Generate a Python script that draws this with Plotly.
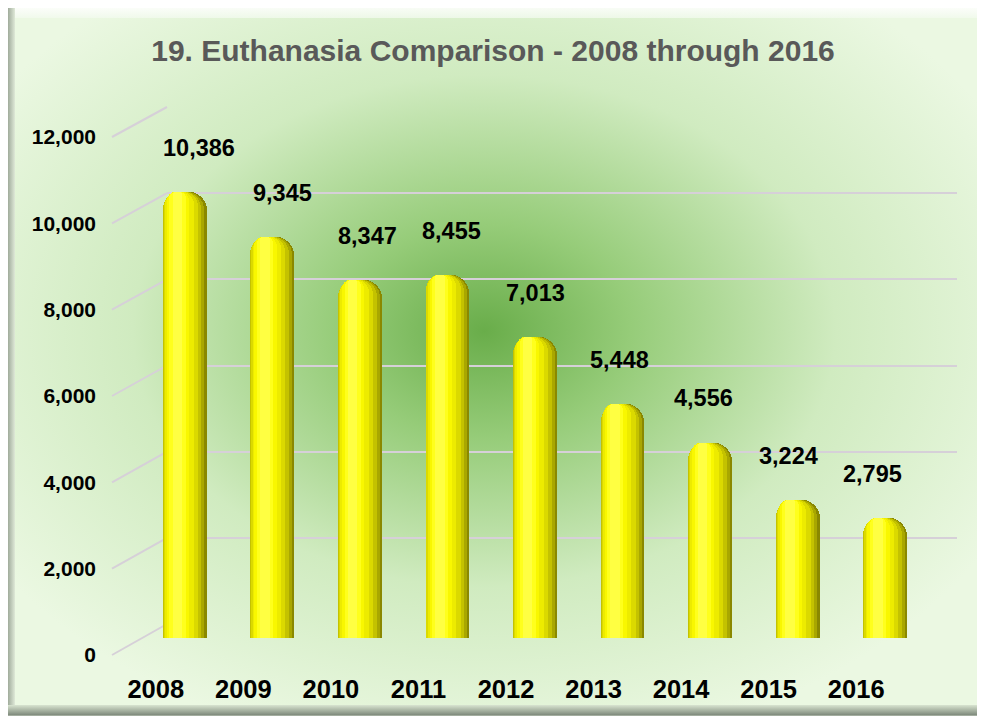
import base64
import plotly.graph_objects as go

# ---------------- data ----------------
years = ["2008", "2009", "2010", "2011", "2012", "2013", "2014", "2015", "2016"]
euthanasia = [10386, 9345, 8347, 8455, 7013, 5448, 4556, 3224, 2795]
tick_values = [0, 2000, 4000, 6000, 8000, 10000, 12000]
tick_labels = ["0", "2,000", "4,000", "6,000", "8,000", "10,000", "12,000"]
title_text = "19. Euthanasia Comparison - 2008 through 2016"

W, H = 985, 719
OX, OY = 8, 8          # page body offset of the figure
YMAX = 12000
FONT = "Liberation Sans, Arial, sans-serif"
BAR_W = 0.5


def px_x(p):
    return (p - OX) / W


def px_y(p):
    return 1 - (p - OY) / H


# domains (3D-ish look: back wall grid, bars in middle, labels in front)
grid_x = [px_x(167), px_x(957)]
grid_y = [px_y(624), px_y(107)]
bar_x = [px_x(141), px_x(929)]
bar_y = [px_y(638), px_y(122.6)]
lab_x = [px_x(112), px_x(900)]
lab_y = [px_y(655), px_y(137)]

# ---------------- background (radial gradient + frame) ----------------
svg = f'''<svg xmlns="http://www.w3.org/2000/svg" width="{W}" height="{H}" viewBox="0 0 {W} {H}">
<defs>
<radialGradient id="g" cx="0.49" cy="0.46" r="0.60">
<stop offset="0" stop-color="#69ad4a"/>
<stop offset="0.25" stop-color="#96cc79"/>
<stop offset="0.6" stop-color="#d0ebc0"/>
<stop offset="1" stop-color="#ebf8e2"/>
</radialGradient>
<linearGradient id="lb" x1="0" x2="1" y1="0" y2="0">
<stop offset="0" stop-color="#8e9a8a"/><stop offset="1" stop-color="#dfe9d8"/>
</linearGradient>
<linearGradient id="bb" x1="0" x2="0" y1="0" y2="1">
<stop offset="0" stop-color="#d8e4d0"/><stop offset="1" stop-color="#7f8a7c"/>
</linearGradient>
<linearGradient id="tb" x1="0" x2="0" y1="0" y2="1">
<stop offset="0" stop-color="#b8c2b4"/><stop offset="0.3" stop-color="#ffffff"/><stop offset="1" stop-color="#f2faee"/>
</linearGradient>
</defs>
<rect width="{W}" height="{H}" fill="#ffffff"/>
<g transform="translate({-OX},{-OY})">
<rect x="5" y="3" width="978" height="713" fill="#a3ad9f"/>
<rect x="6" y="4" width="976" height="711" fill="url(#g)"/>
<rect x="6" y="4" width="976" height="14" fill="url(#tb)" opacity="0.8"/>
<rect x="6" y="4" width="9" height="711" fill="url(#lb)"/>
<rect x="6" y="705" width="976" height="10" fill="url(#bb)"/>
<rect x="978" y="4" width="4" height="711" fill="#c9d3c4"/>
</g>
</svg>'''
bg_uri = "data:image/svg+xml;base64," + base64.b64encode(svg.encode()).decode()

fig = go.Figure()

# grid carrier (back wall) on x/y
fig.add_trace(go.Scatter(x=[0.5], y=[0], mode="markers", marker=dict(opacity=0),
                         hoverinfo="skip", showlegend=False, xaxis="x", yaxis="y"))

# cylinder-like bars: overlay layers (left/right fraction of bar width, colour)
layers = [
    (0.00, 1.00, "#8a8800"),
    (0.00, 0.95, "#a9a700"),
    (0.00, 0.88, "#c4c200"),
    (0.02, 0.80, "#dbd900"),
    (0.05, 0.70, "#edeb00"),
    (0.09, 0.60, "#f9f700"),
    (0.15, 0.52, "#ffff1c"),
    (0.22, 0.44, "#ffff42"),
]
for lf, rf, col in layers:
    fig.add_trace(go.Bar(
        x=years, y=euthanasia, width=(rf - lf) * BAR_W, offset=-BAR_W / 2 + lf * BAR_W,
        marker=dict(color=col, line=dict(width=0), cornerradius="45%"),
        hoverinfo="skip", showlegend=False, xaxis="x2", yaxis="y2",
    ))

# front label carrier on x3/y3
fig.add_trace(go.Scatter(x=years, y=euthanasia, mode="markers", marker=dict(opacity=0),
                         hoverinfo="skip", showlegend=False, xaxis="x3", yaxis="y3"))

# data labels
annotations = []
n = len(years)
for i, v in enumerate(euthanasia):
    annotations.append(dict(
        x=i, y=v, xref="x2", yref="y2", text=f"<b>{v:,}</b>", showarrow=False,
        xanchor="center", yanchor="middle", xshift=14 - 27 * i / (n - 1), yshift=44,
        font=dict(family=FONT, size=23.5, color="#000000"),
    ))

# left-wall diagonal grid segments
shapes = []
for v in tick_values:
    yf = lab_y[0] + v / YMAX * (lab_y[1] - lab_y[0])
    yb = grid_y[0] + v / YMAX * (grid_y[1] - grid_y[0])
    shapes.append(dict(type="line", xref="paper", yref="paper",
                       x0=px_x(112), y0=yf, x1=grid_x[0], y1=yb,
                       line=dict(color="#d6d0d8", width=2), layer="below"))

hidden = dict(showgrid=False, zeroline=False, showline=False, showticklabels=False, ticks="")

fig.update_layout(
    width=W, height=H,
    margin=dict(l=0, r=0, t=0, b=0, pad=0, autoexpand=False),
    paper_bgcolor="#ffffff",
    plot_bgcolor="rgba(0,0,0,0)",
    barmode="overlay",
    bargap=0,
    showlegend=False,
    images=[dict(source=bg_uri, xref="paper", yref="paper", x=0, y=1, sizex=1, sizey=1,
                 xanchor="left", yanchor="top", sizing="stretch", layer="below")],
    title=dict(text=f"<b>{title_text}</b>", x=px_x(493), xanchor="center", xref="paper",
               y=px_y(50), yanchor="middle", yref="paper",
               font=dict(family=FONT, size=30, color="#595959")),
    xaxis=dict(domain=grid_x, range=[0, 1], anchor="y", **hidden),
    yaxis=dict(domain=grid_y, range=[0, YMAX], tickvals=tick_values, showgrid=True,
               gridcolor="#d6d0d8", gridwidth=2, zeroline=False, showticklabels=False,
               showline=False, ticks="", anchor="x"),
    xaxis2=dict(domain=bar_x, type="category", categoryorder="array", categoryarray=years,
                range=[-0.5, len(years) - 0.5], anchor="y2", **hidden),
    yaxis2=dict(domain=bar_y, range=[0, YMAX], anchor="x2", **hidden),
    xaxis3=dict(domain=lab_x, type="category", categoryorder="array", categoryarray=years,
                range=[-0.5, len(years) - 0.5], showgrid=False, zeroline=False, showline=False,
                ticks="", anchor="free", position=px_y(671),
                tickfont=dict(family=FONT, size=25.5, color="#000000", weight="bold")),
    yaxis3=dict(domain=lab_y, range=[0, YMAX], tickvals=tick_values, ticktext=tick_labels,
                showgrid=False, zeroline=False, showline=False, ticks="",
                anchor="free", position=px_x(96), side="left",
                tickfont=dict(family=FONT, size=21, color="#000000", weight="bold")),
    annotations=annotations,
    shapes=shapes,
)

fig.write_html("out.html")
